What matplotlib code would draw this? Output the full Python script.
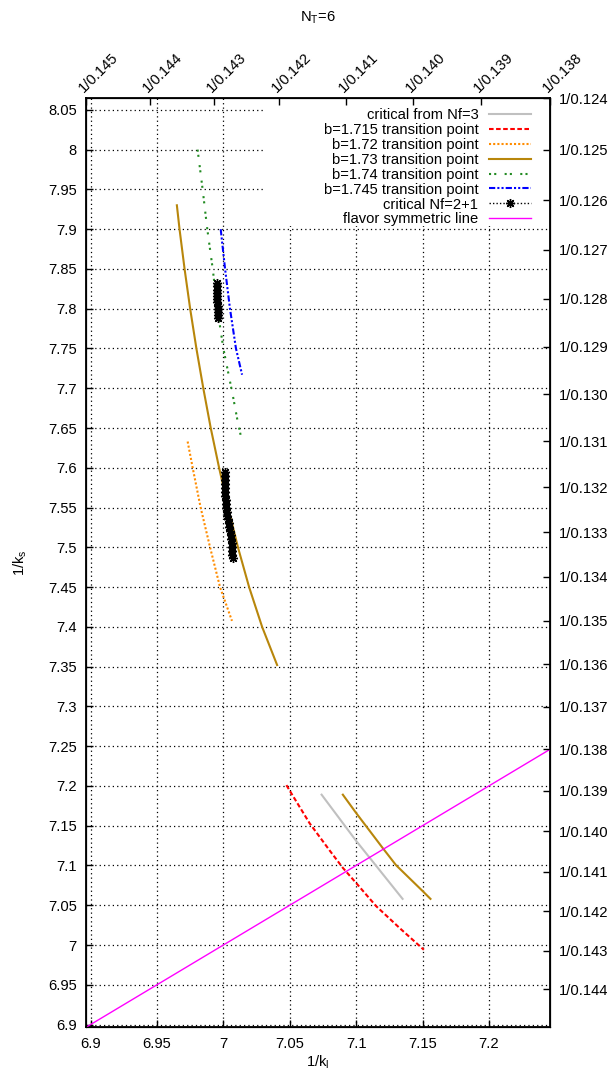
import numpy as np
import matplotlib.pyplot as plt
from matplotlib.lines import Line2D
from matplotlib.patches import Rectangle

plt.rcParams['font.family'] = ['Liberation Sans', 'DejaVu Sans']
plt.rcParams['font.size'] = 10.6
plt.rcParams['mathtext.default'] = 'regular'

# critical line from Nf=3
nf3_kl = [7.074, 7.100, 7.135]
nf3_ks = [7.189, 7.131, 7.058]

# transition points for each beta
b1715_kl = [7.0475, 7.050, 7.065, 7.080, 7.090, 7.100, 7.115, 7.133, 7.151]
b1715_ks = [7.201, 7.194, 7.153, 7.119, 7.097, 7.078, 7.049, 7.021, 6.994]

b172_kl = [6.9731, 6.9769, 6.9829, 6.9900, 6.9975, 7.0065]
b172_ks = [7.633, 7.600, 7.550, 7.500, 7.450, 7.4075]

b173_kl = [6.9650, 6.9670, 6.9708, 6.9750, 6.9797, 6.9849, 6.9905, 6.9968,
           7.0036, 7.0110, 7.0194, 7.0292, 7.0405]
b173_ks = [7.930, 7.900, 7.850, 7.800, 7.750, 7.700, 7.650, 7.600,
           7.550, 7.500, 7.450, 7.400, 7.352]
# second branch of b=1.73, near the symmetric point
b173b_kl = [7.090, 7.100, 7.120, 7.130, 7.150, 7.156]
b173b_ks = [7.189, 7.166, 7.122, 7.1005, 7.068, 7.058]

b174_kl = [6.9806, 6.9844, 6.9879, 6.9920, 6.9955, 7.0000, 7.0070, 7.0106, 7.0131]
b174_ks = [8.000, 7.950, 7.900, 7.850, 7.800, 7.750, 7.692, 7.660, 7.6405]

b1745_kl = [6.9980, 7.0013, 7.0050, 7.0095, 7.0141]
b1745_ks = [7.900, 7.850, 7.800, 7.750, 7.717]

# critical points for Nf=2+1
crit_kl = [6.9952, 6.9950, 6.9953, 6.9951, 6.9954, 6.9952, 6.9955, 6.9957,
           6.9958, 6.9960, 6.9961, 6.9962,
           7.0012, 7.0010, 7.0012, 7.0010, 7.0013, 7.0015, 7.0014, 7.0018,
           7.0020, 7.0022, 7.0026, 7.0030, 7.0034, 7.0040, 7.0045, 7.0050,
           7.0055, 7.0060, 7.0063, 7.0066, 7.0068, 7.0068, 7.0070]
crit_ks = [7.832, 7.828, 7.824, 7.820, 7.816, 7.812, 7.808, 7.804,
           7.800, 7.796, 7.792, 7.788,
           7.595, 7.590, 7.585, 7.580, 7.575, 7.570, 7.565, 7.560,
           7.555, 7.550, 7.545, 7.540, 7.535, 7.530, 7.525, 7.520,
           7.515, 7.510, 7.505, 7.500, 7.495, 7.490, 7.486]

# flavor symmetric line kappa_l = kappa_s
sym_kl = [1 / 0.145, 1 / 0.138]
sym_ks = [1 / 0.145, 1 / 0.138]

# axis ticks
x_ticks = [6.9, 6.95, 7.0, 7.05, 7.1, 7.15, 7.2]
y_ticks = [6.9, 6.95, 7.0, 7.05, 7.1, 7.15, 7.2, 7.25, 7.3, 7.35, 7.4, 7.45,
           7.5, 7.55, 7.6, 7.65, 7.7, 7.75, 7.8, 7.85, 7.9, 7.95, 8.0, 8.05]
x2_kappa = [0.145, 0.144, 0.143, 0.142, 0.141, 0.140, 0.139, 0.138]
y2_kappa = [0.124, 0.125, 0.126, 0.127, 0.128, 0.129, 0.130, 0.131, 0.132,
            0.133, 0.134, 0.135, 0.136, 0.137, 0.138, 0.139, 0.140, 0.141,
            0.142, 0.143, 0.144]

xmin, xmax = 1 / 0.145, 1 / 0.138
ymin, ymax = 1 / 0.145, 1 / 0.124

fig = plt.figure(figsize=(6.09, 10.72), dpi=100)
ax = fig.add_axes([0.1412, 0.0417, 0.7627, 0.8666])

ax.plot(nf3_kl, nf3_ks, color='#c0c0c0', lw=1.5, label='critical from Nf=3', zorder=3)
ax.plot(b1715_kl, b1715_ks, color='#ff0000', lw=1.5, ls=(0, (2.2, 1.2)),
        label='b=1.715 transition point', zorder=3)
ax.plot(b172_kl, b172_ks, color='#ff8c00', lw=1.5, ls=(0, (1, 1)),
        label='b=1.72 transition point', zorder=3)
ax.plot(b173_kl, b173_ks, color='#b8860b', lw=1.5, label='b=1.73 transition point', zorder=3)
ax.plot(b173b_kl, b173b_ks, color='#b8860b', lw=1.5, zorder=3)
ax.plot(b174_kl, b174_ks, color='#228b22', lw=1.5, ls=(0, (1, 1.5, 1, 4)),
        label='b=1.74 transition point', zorder=3)
ax.plot(b1745_kl, b1745_ks, color='#0000ff', lw=1.5, ls=(0, (3, 1, 1, 1, 1, 1)),
        label='b=1.745 transition point', zorder=3)
ax.plot(crit_kl, crit_ks, ls='none', marker=(8, 2, 0), ms=6.5, mew=1,
        color='black', zorder=4)
ax.plot(sym_kl, sym_ks, color='#ff00ff', lw=1, label='flavor symmetric line', zorder=3)

ax.set_xlim(xmin, xmax)
ax.set_ylim(ymin, ymax)
ax.set_xticks(x_ticks)
ax.set_xticklabels(['%g' % v for v in x_ticks])
ax.set_yticks(y_ticks)
ax.set_yticklabels(['%g' % v for v in y_ticks])
ax.tick_params(direction='in', length=5, width=1, top=True, right=True)
ax.tick_params(axis='x', pad=7)
ax.tick_params(axis='y', pad=6.5)
ax.grid(True, color='black', ls=(0, (1, 2.5)), lw=0.9)
ax.set_axisbelow(True)
for s in ax.spines.values():
    s.set_linewidth(1.3)

ax.set_xlabel('1/k$_l$', labelpad=2)
ax.set_ylabel('1/k$_s$', labelpad=14)

# top axis in units of 1/kappa_l
ax_top = ax.twiny()
ax_top.set_xlim(xmin, xmax)
ax_top.set_xticks([1 / k for k in x2_kappa])
ax_top.set_xticklabels(['1/%.3f' % k for k in x2_kappa])
ax_top.tick_params(direction='in', length=5, width=1, pad=2)
for lab in ax_top.get_xticklabels():
    lab.set_rotation(45)
    lab.set_ha('left')
    lab.set_va('bottom')
    lab.set_rotation_mode('anchor')

# right axis in units of 1/kappa_s
ax_right = ax.twinx()
ax_right.set_ylim(ymin, ymax)
ax_right.set_yticks([1 / k for k in y2_kappa])
ax_right.set_yticklabels(['1/%.3f' % k for k in y2_kappa])
ax_right.tick_params(direction='in', length=5, width=1, pad=6)

# opaque key box
ax.add_patch(Rectangle((0.385, 0.8625), 0.615, 0.1375, transform=ax.transAxes,
                       facecolor='white', edgecolor='none', zorder=2.5))

handles, labels = ax.get_legend_handles_labels()
crit_handle = Line2D([], [], color='black', ls=(0, (1, 1.5)), lw=1,
                     marker=(8, 2, 0), ms=6.5, mew=1)
handles.insert(6, crit_handle)
labels.insert(6, 'critical Nf=2+1')
leg = ax.legend(handles, labels, loc='upper right', bbox_to_anchor=(0.984, 1.002),
                markerfirst=False, frameon=False, handlelength=2.9,
                handletextpad=0.7, labelspacing=0.06, borderpad=0.3,
                fontsize=10.6)
leg.set_zorder(5)

fig.text(0.5226, 0.983, 'N$_T$=6', ha='center', va='center')

fig.savefig('out.png', dpi=100)
